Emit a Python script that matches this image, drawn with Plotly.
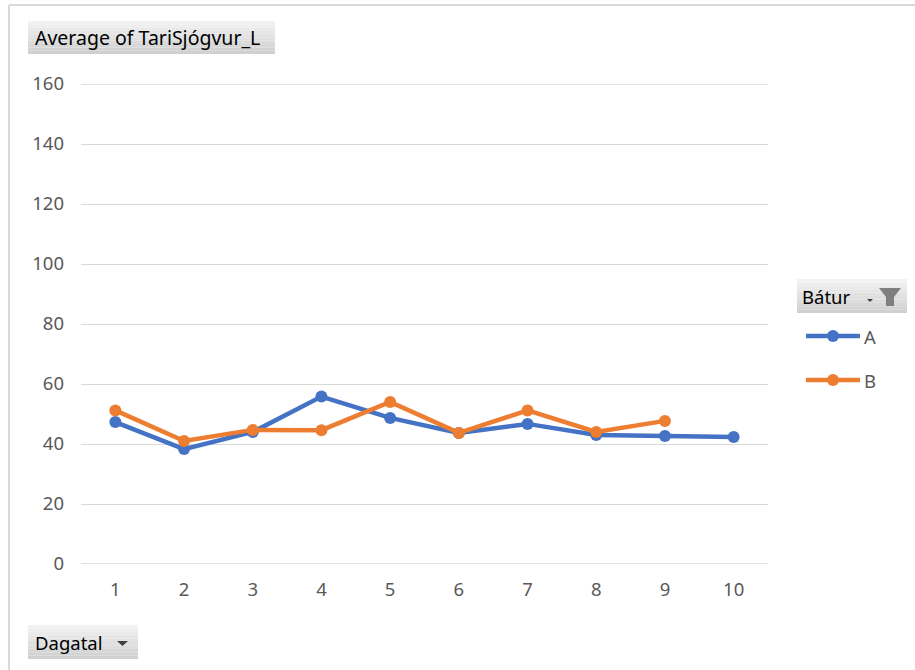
import plotly.graph_objects as go

# ---- data ----
days = [1, 2, 3, 4, 5, 6, 7, 8, 9, 10]
boat_a = [47.3, 38.3, 44.0, 55.8, 48.7, 43.7, 46.7, 43.0, 42.7, 42.3]
days_b = [1, 2, 3, 4, 5, 6, 7, 8, 9]
boat_b = [51.2, 41.0, 44.7, 44.6, 54.0, 43.7, 51.2, 44.0, 47.7]
y_ticks = [0, 20, 40, 60, 80, 100, 120, 140, 160]
series_names = ["A", "B"]
colors = ["#4472C4", "#ED7D31"]

W, H = 915, 670
L, R, T, B = 81, 147, 84, 106
PW, PH = W - L - R, H - T - B
FONT = "Noto Sans"
TICK_SIZE = 18.5
BTN_SIZE = 18.5


def px(x):
    return (x - L) / PW


def py(y):
    return (H - B - y) / PH


fig = go.Figure()
for xs, ys, name, c in [(days, boat_a, series_names[0], colors[0]),
                        (days_b, boat_b, series_names[1], colors[1])]:
    fig.add_trace(go.Scatter(
        x=xs, y=ys, name=name, mode="lines+markers",
        line=dict(color=c, width=4.5),
        marker=dict(color=c, size=12),
        showlegend=False,
    ))

shapes = []
# outer chart border (top & left)
shapes.append(dict(type="line", xref="paper", yref="paper",
                   x0=px(9), x1=px(915), y0=py(5), y1=py(5),
                   line=dict(color="#d9d9d9", width=2)))
shapes.append(dict(type="line", xref="paper", yref="paper",
                   x0=px(9), x1=px(9), y0=py(5), y1=py(670),
                   line=dict(color="#d9d9d9", width=2)))
# boundary gridlines (0 and 160)
for v in (y_ticks[0], y_ticks[-1]):
    shapes.append(dict(type="line", xref="paper", yref="y", x0=0, x1=1,
                       y0=v, y1=v, line=dict(color="#d9d9d9", width=1.3),
                       layer="below"))


def button(x0, y0, x1, y1):
    n = 10
    top = (242, 242, 242)
    bot = (208, 208, 208)
    for i in range(n):
        f = i / (n - 1)
        col = tuple(int(top[k] + (bot[k] - top[k]) * f) for k in range(3))
        ya = y0 + (y1 - y0) * i / n
        yb = y0 + (y1 - y0) * (i + 1) / n
        shapes.append(dict(type="rect", xref="paper", yref="paper",
                           x0=px(x0), x1=px(x1), y0=py(ya), y1=py(yb),
                           fillcolor="rgb(%d,%d,%d)" % col, line=dict(width=0),
                           layer="below"))


button(28, 21, 275, 54)
button(28, 625, 138, 659)
button(797, 279, 907, 313)


def path(points, color):
    d = "M " + " L ".join("%f,%f" % (px(a), py(b)) for a, b in points) + " Z"
    shapes.append(dict(type="path", xref="paper", yref="paper", path=d,
                       fillcolor=color, line=dict(width=0)))


# dropdown arrow on Dagatal
path([(117, 641), (128, 641), (122.5, 646)], "#404040")
# small arrow + funnel on Bátur
path([(867, 299), (873, 299), (870, 302)], "#404040")
path([(879, 288), (901, 288), (894, 297), (894, 306), (886, 306), (886, 297)], "#7f7f7f")

annotations = [
    dict(text="Average of TariSjógvur_L", xref="paper", yref="paper",
         x=px(33), y=py(37.5), xanchor="left", yanchor="middle", showarrow=False,
         font=dict(family=FONT, size=19.5, color="#000000")),
    dict(text="Dagatal", xref="paper", yref="paper",
         x=px(33), y=py(642), xanchor="left", yanchor="middle", showarrow=False,
         font=dict(family=FONT, size=BTN_SIZE, color="#000000")),
    dict(text="Bátur", xref="paper", yref="paper",
         x=px(800), y=py(296), xanchor="left", yanchor="middle", showarrow=False,
         font=dict(family=FONT, size=BTN_SIZE, color="#000000")),
]

# manual legend
legend_rows = [336, 380]
for name, c, yy in zip(series_names, colors, legend_rows):
    shapes.append(dict(type="line", xref="paper", yref="paper",
                       x0=px(806), x1=px(860), y0=py(yy), y1=py(yy),
                       line=dict(color=c, width=4.5)))
    shapes.append(dict(type="circle", xref="paper", yref="paper",
                       x0=px(827), x1=px(839), y0=py(yy - 6), y1=py(yy + 6),
                       fillcolor=c, line=dict(width=0)))
    annotations.append(dict(text=name, xref="paper", yref="paper",
                            x=px(862), y=py(yy), xanchor="left", yanchor="middle",
                            showarrow=False,
                            font=dict(family=FONT, size=TICK_SIZE, color="#595959")))

fig.update_layout(
    width=W, height=H,
    margin=dict(l=L, r=R, t=T, b=B),
    paper_bgcolor="white", plot_bgcolor="white",
    font=dict(family=FONT, size=TICK_SIZE, color="#595959"),
    showlegend=False,
    xaxis=dict(range=[0.5, 10.5], tickmode="array", tickvals=days,
               ticktext=[str(d) for d in days], showgrid=False, zeroline=False,
               showline=False, ticks="", ticklabelstandoff=12, fixedrange=True),
    yaxis=dict(range=[0, 160], tickmode="array", tickvals=y_ticks,
               ticktext=[str(v) for v in y_ticks], showgrid=True,
               gridcolor="#d9d9d9", gridwidth=1.3, zeroline=False,
               showline=False, ticks="", ticklabelstandoff=16, fixedrange=True),
    shapes=shapes, annotations=annotations,
)

fig.write_html("out.html")
